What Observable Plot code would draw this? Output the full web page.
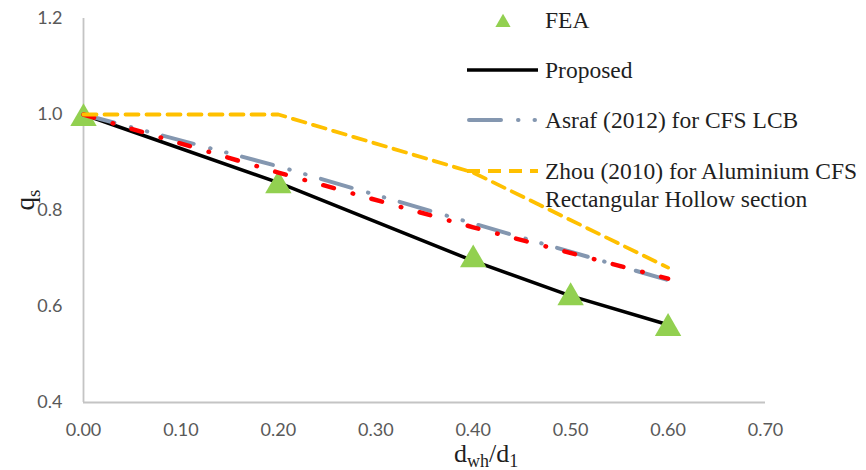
<!DOCTYPE html>
<html>
<head>
<meta charset="utf-8">
<script src="https://cdn.jsdelivr.net/npm/d3@7"></script>
<script src="https://cdn.jsdelivr.net/npm/@observablehq/plot@0.6"></script>
<style>
  html, body { margin: 0; padding: 0; background: #fff; }
  #chart { position: relative; width: 866px; height: 470px; }
</style>
</head>
<body>
<div id="chart"></div>
<script>
// ---- data ----
const xTicks = [0, 0.1, 0.2, 0.3, 0.4, 0.5, 0.6, 0.7];
const yTicks = [0.4, 0.6, 0.8, 1.0, 1.2];

const feaX = [0, 0.2, 0.4, 0.5, 0.6];
const feaQ = [1.0, 0.86, 0.706, 0.627, 0.563];

const proposedX = [0, 0.2, 0.4, 0.5, 0.6];
const proposedQ = [1.0, 0.858, 0.695, 0.622, 0.562];

const asrafX = [0, 0.2, 0.4, 0.6];
const asrafQ = [1.0, 0.892, 0.773, 0.655];

const redX = [0, 0.2, 0.4, 0.6];
const redQ = [1.0, 0.879, 0.765, 0.658];

const zhouX = [0, 0.2, 0.4, 0.6];
const zhouQ = [1.0, 1.0, 0.879, 0.681];

const legendLabels = ["FEA", "Proposed", "Asraf (2012) for CFS LCB",
  ["Zhou (2010) for Aluminium CFS", "Rectangular Hollow section"]];

const zip = (xs, ys) => xs.map((x, i) => ({x, q: ys[i]}));
const fea = zip(feaX, feaQ);
const proposed = zip(proposedX, proposedQ);
const asraf = zip(asrafX, asrafQ);
const red = zip(redX, redQ);
const zhou = zip(zhouX, zhouQ);

const C = {green: "#92d050", black: "#000000", gray: "#8497b0", red: "#ff0000", orange: "#ffc000", axis: "#c4c4c4"};
const dashGray = "32,17,0.5,16,0.5,16";
const dashRed = "11,19.5,0.5,19";
const dashOrange = "13,8";

const chart = Plot.plot({
  width: 866,
  height: 470,
  marginLeft: 83,
  marginRight: 101,
  marginTop: 18,
  marginBottom: 68,
  style: {fontFamily: "Lato, 'Open Sans', sans-serif", fontSize: "18px", color: "#595959", background: "#fff"},
  x: {domain: [0, 0.7]},
  y: {domain: [0.4, 1.2]},
  marks: [
    Plot.axisX({ticks: xTicks, tickSize: 0, tickPadding: 21, tickFormat: d => d.toFixed(2), label: null}),
    Plot.axisY({ticks: yTicks, tickSize: 0, tickPadding: 21, tickFormat: d => d.toFixed(1), label: null}),
    Plot.ruleX([0], {y1: 0.4, y2: 1.2, stroke: C.axis, strokeWidth: 1.8}),
    Plot.ruleY([0.4], {x1: 0, x2: 0.7, stroke: C.axis, strokeWidth: 1.8}),
    Plot.line(proposed, {x: "x", y: "q", stroke: C.black, strokeWidth: 3.5}),
    Plot.dot(fea, {x: "x", y: "q", symbol: "triangle", r: 9.8, fill: C.green, stroke: "none", dy: 4}),
    Plot.line(asraf, {x: "x", y: "q", stroke: C.gray, strokeWidth: 4, strokeDasharray: dashGray, strokeLinecap: "round"}),
    Plot.line(red, {x: "x", y: "q", stroke: C.red, strokeWidth: 4.5, strokeDasharray: dashRed, strokeLinecap: "round"}),
    Plot.line(zhou, {x: "x", y: "q", stroke: C.orange, strokeWidth: 3.8, strokeDasharray: dashOrange, strokeLinejoin: "round"})
  ]
});

document.getElementById("chart").appendChild(chart);

// ---- legend and axis titles (layout only) ----
const svg = d3.select(chart);
const serif = "'Liberation Serif', 'Times New Roman', serif";
const lg = svg.append("g").attr("font-family", serif).attr("font-size", 23.5).attr("fill", "#1f1f1f")
  .attr("text-anchor", "start");
const tx = 545, lx1 = 467, lx2 = 538;
const rows = [20, 70, 120, 171];

lg.append("path")
  .attr("d", d3.symbol(d3.symbolTriangle, 100)())
  .attr("transform", `translate(503,${rows[0] + 2.5})`)
  .attr("fill", C.green);
lg.append("line").attr("x1", lx1).attr("x2", lx2).attr("y1", rows[1]).attr("y2", rows[1])
  .attr("stroke", C.black).attr("stroke-width", 3.5);
lg.append("line").attr("x1", lx1 + 2).attr("x2", lx2).attr("y1", rows[2]).attr("y2", rows[2])
  .attr("stroke", C.gray).attr("stroke-width", 4).attr("stroke-linecap", "round").attr("stroke-dasharray", dashGray);
lg.append("line").attr("x1", lx1).attr("x2", lx2).attr("y1", rows[3]).attr("y2", rows[3])
  .attr("stroke", C.orange).attr("stroke-width", 3.8).attr("stroke-dasharray", dashOrange);

legendLabels.forEach((lab, i) => {
  const t = lg.append("text").attr("x", tx).attr("y", rows[i]).attr("dy", "0.33em");
  if (Array.isArray(lab)) {
    t.text(lab[0]);
    lg.append("text").attr("x", tx).attr("y", rows[i] + 28).attr("dy", "0.33em").text(lab[1]);
  } else t.text(lab);
});

// y title q_s
const yt = svg.append("text").attr("font-family", serif).attr("font-size", 27).attr("fill", "#1f1f1f")
  .attr("transform", "translate(34,200) rotate(-90)").attr("text-anchor", "middle");
yt.append("tspan").text("q");
yt.append("tspan").attr("font-size", 19).attr("dy", 6).text("s");

// x title d_wh/d_1
const xt = svg.append("text").attr("font-family", serif).attr("font-size", 26).attr("fill", "#1f1f1f")
  .attr("text-anchor", "start").attr("x", 454).attr("y", 462);
xt.append("tspan").text("d");
xt.append("tspan").attr("font-size", 18).attr("dy", 5).text("wh");
xt.append("tspan").attr("dy", -5).text("/d");
xt.append("tspan").attr("font-size", 18).attr("dy", 5).text("1");
</script>
</body>
</html>
